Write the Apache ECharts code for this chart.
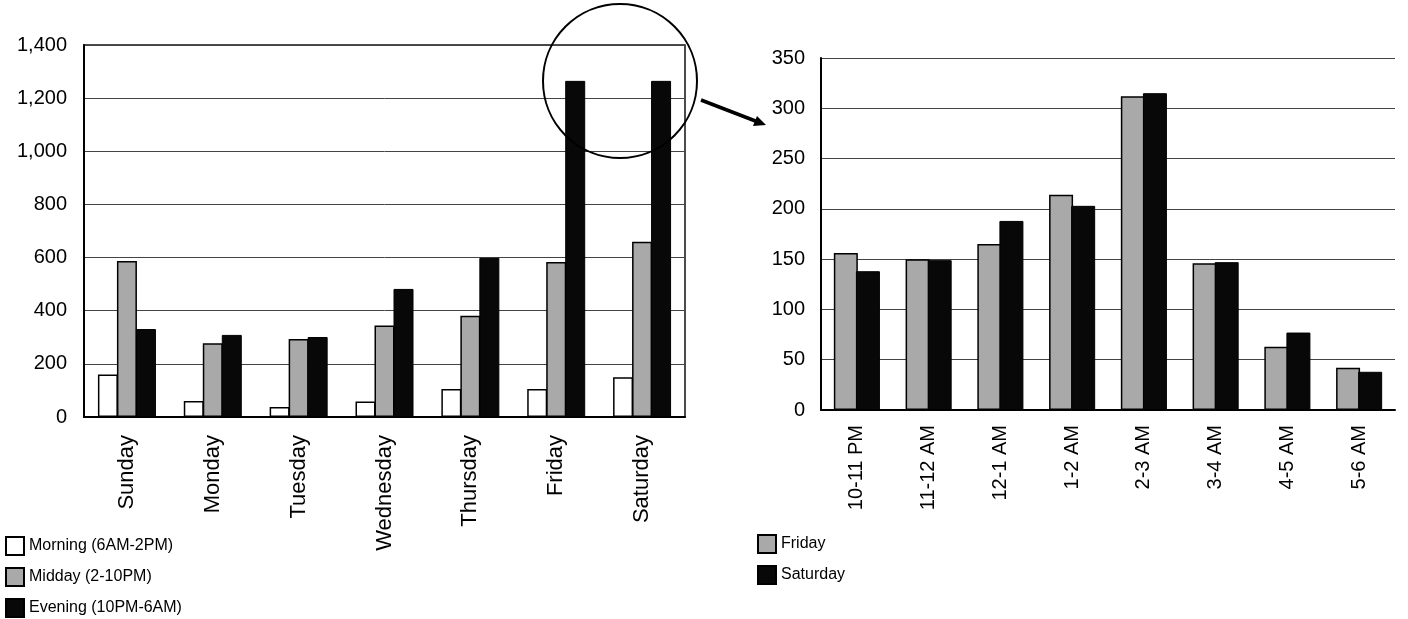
<!DOCTYPE html>
<html><head><meta charset="utf-8">
<script src="https://cdn.jsdelivr.net/npm/echarts@6/dist/echarts.min.js"></script>
<style>html,body{margin:0;padding:0;background:#fff}#c{width:1408px;height:619px}</style>
</head><body><div id="c"></div>
<script>
const days = ['Sunday','Monday','Tuesday','Wednesday','Thursday','Friday','Saturday'];
const morning = [160, 60, 38, 58, 105, 105, 150];
const midday = [587, 278, 294, 344, 381, 583, 660];
const evening = [331, 309, 301, 482, 599, 1265, 1265];
const leftTicks = [0, 200, 400, 600, 800, 1000, 1200, 1400];

const hours = ['10-11 PM','11-12 AM','12-1 AM','1-2 AM','2-3 AM','3-4 AM','4-5 AM','5-6 AM'];
const friday = [156, 150, 165, 214, 312, 146, 63, 42];
const saturday = [138, 149, 188, 203, 315, 147, 77, 38];
const rightTicks = [0, 50, 100, 150, 200, 250, 300, 350];

const FONT = 'Liberation Sans, Arial, sans-serif';
const GRAY = '#a9a9a9';
const chart = echarts.init(document.getElementById('c'));
const fmt = v => v.toLocaleString('en-US');

chart.setOption({
  animation: false,
  textStyle: {fontFamily: FONT, color: '#000'},
  grid: [
    {left: 84, right: 723, top: 45, bottom: 202, show: true, borderColor: '#111', borderWidth: 1.5, backgroundColor: 'transparent'},
    {left: 821, right: 13, top: 58, bottom: 209}
  ],
  legend: [
    {orient: 'vertical', left: 0, top: 531, height: 100, itemWidth: 18, itemHeight: 18, itemGap: 11, icon: 'rect',
     textStyle: {fontFamily: FONT, fontSize: 16, color: '#000', lineHeight: 19},
     data: ['Morning (6AM-2PM)', 'Midday (2-10PM)', 'Evening (10PM-6AM)']},
    {orient: 'vertical', left: 752, top: 529, height: 80, itemWidth: 18, itemHeight: 18, itemGap: 11, icon: 'rect',
     textStyle: {fontFamily: FONT, fontSize: 16, color: '#000', lineHeight: 19},
     data: ['Friday', 'Saturday']}
  ],
  xAxis: [
    {type: 'category', gridIndex: 0, data: days,
     axisLine: {lineStyle: {color: '#000', width: 2}}, axisTick: {show: false},
     axisLabel: {rotate: 90, fontSize: 22, color: '#000', margin: 18, fontFamily: FONT}},
    {type: 'category', gridIndex: 1, data: hours,
     axisLine: {lineStyle: {color: '#000', width: 2}}, axisTick: {show: false},
     axisLabel: {rotate: 90, fontSize: 20, color: '#000', margin: 15, fontFamily: FONT}}
  ],
  yAxis: [
    {type: 'value', gridIndex: 0, min: leftTicks[0], max: leftTicks[leftTicks.length-1], interval: 200,
     axisLine: {show: true, lineStyle: {color: '#000', width: 2}}, axisTick: {show: false},
     splitLine: {lineStyle: {color: '#444', width: 1}},
     axisLabel: {fontSize: 20, color: '#000', margin: 17, formatter: fmt, fontFamily: FONT}},
    {type: 'value', gridIndex: 1, min: rightTicks[0], max: rightTicks[rightTicks.length-1], interval: 50,
     axisLine: {show: true, lineStyle: {color: '#000', width: 2}}, axisTick: {show: false},
     splitLine: {lineStyle: {color: '#444', width: 1}},
     axisLabel: {fontSize: 20, color: '#000', margin: 16, fontFamily: FONT}}
  ],
  series: [
    {name: 'Morning (6AM-2PM)', type: 'bar', xAxisIndex: 0, yAxisIndex: 0, data: morning,
     barWidth: 20, barGap: '-5%', itemStyle: {color: '#fff', borderColor: '#000', borderWidth: 1.5}},
    {name: 'Midday (2-10PM)', type: 'bar', xAxisIndex: 0, yAxisIndex: 0, data: midday,
     barWidth: 20, barGap: '-5%', itemStyle: {color: GRAY, borderColor: '#000', borderWidth: 1.5}},
    {name: 'Evening (10PM-6AM)', type: 'bar', xAxisIndex: 0, yAxisIndex: 0, data: evening,
     barWidth: 20, barGap: '-5%', itemStyle: {color: '#080808', borderColor: '#000', borderWidth: 1}},
    {name: 'Friday', type: 'bar', xAxisIndex: 1, yAxisIndex: 1, data: friday,
     barWidth: 24, barGap: '-8%', itemStyle: {color: GRAY, borderColor: '#000', borderWidth: 1.5}},
    {name: 'Saturday', type: 'bar', xAxisIndex: 1, yAxisIndex: 1, data: saturday,
     barWidth: 24, barGap: '-8%', itemStyle: {color: '#080808', borderColor: '#000', borderWidth: 1}}
  ],
  graphic: [
    {type: 'circle', shape: {cx: 620, cy: 81, r: 77}, style: {fill: 'none', stroke: '#000', lineWidth: 2}, z: 100},
    {type: 'line', shape: {x1: 701, y1: 100, x2: 758, y2: 122}, style: {stroke: '#000', lineWidth: 3.5}, z: 100},
    {type: 'polygon', shape: {points: [[766, 125], [753, 126], [757, 116]]}, style: {fill: '#000'}, z: 100}
  ]
});
</script></body></html>
